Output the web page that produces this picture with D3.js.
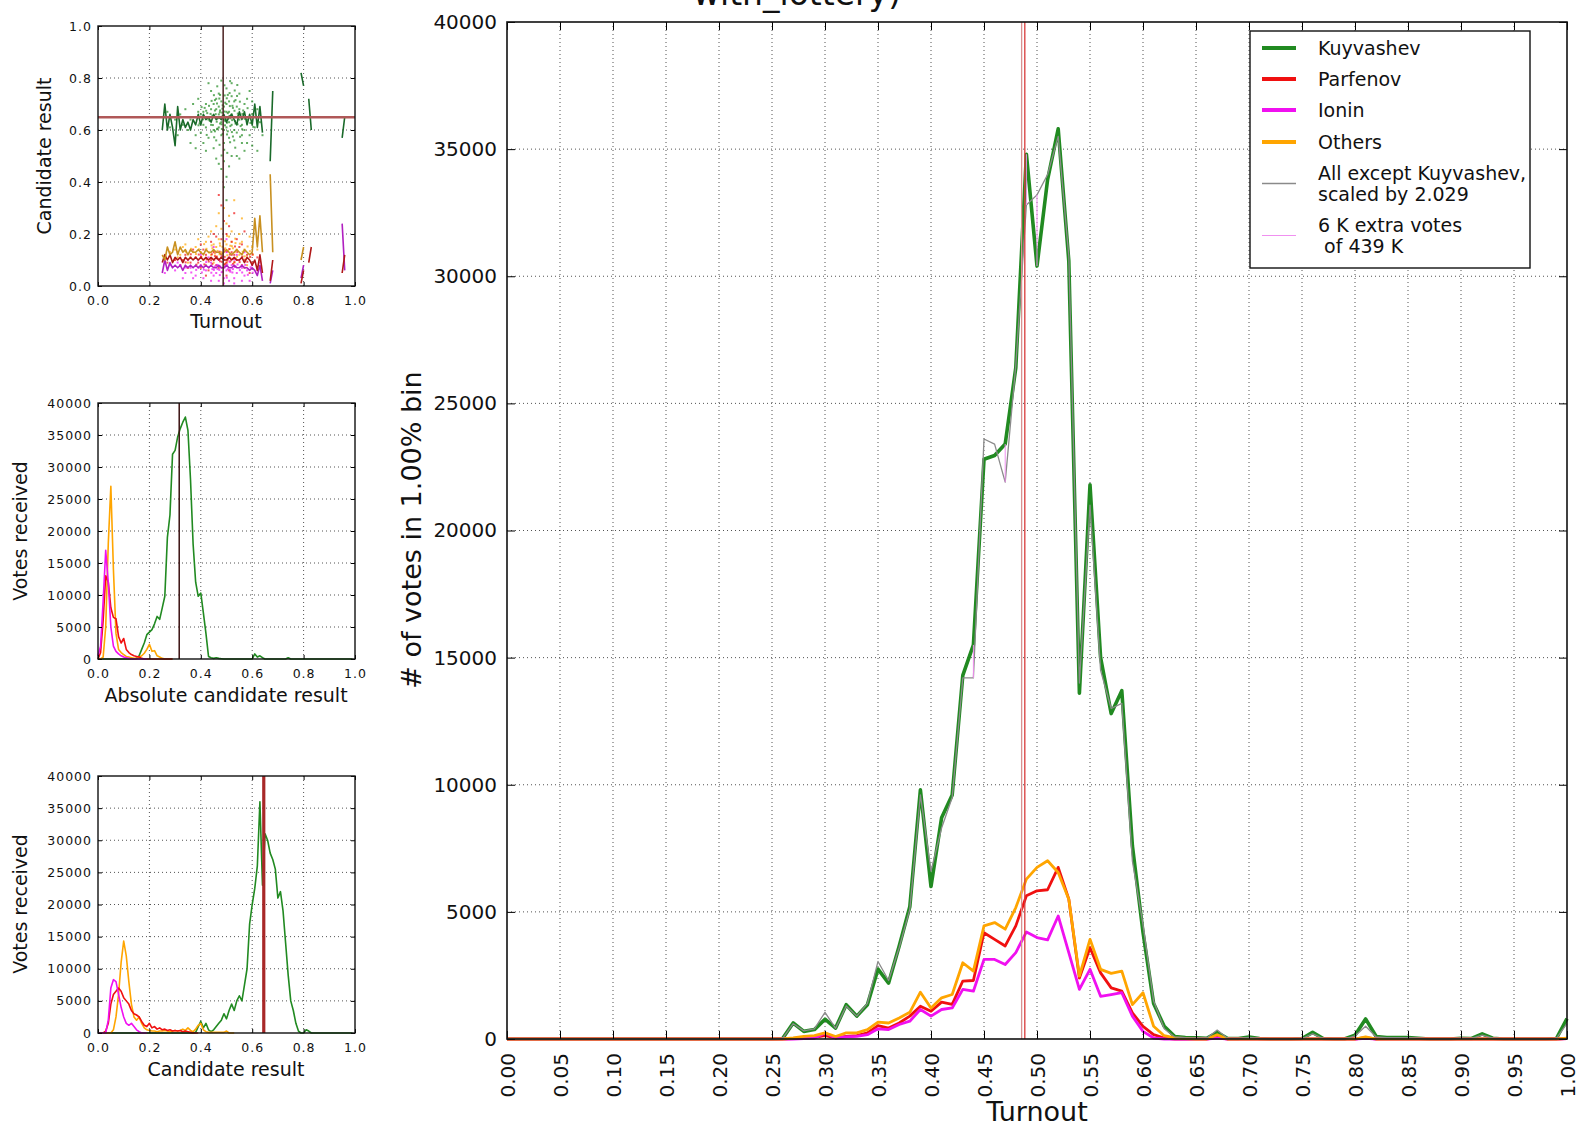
<!DOCTYPE html>
<html><head><meta charset="utf-8">
<script src="https://cdn.jsdelivr.net/npm/d3@7"></script>
<style>body{margin:0;background:#fff} text{font-family:"DejaVu Sans",Verdana,sans-serif;fill:#111}</style>
</head><body><svg id="c" width="1581" height="1128"></svg>
<script>
// ---------------- DATA ----------------
const turnoutBins = d3.range(0, 101).map(i => i / 100);
const kuyvashev = [
 0,0,0,0,0,0,0,0,0,0,
 0,0,0,0,0,0,0,0,0,0,
 0,0,0,0,0,0,20,630,300,370,
 780,430,1350,900,1350,2750,2200,3660,5200,9800,
 6000,8700,9600,14300,15500,22800,22950,23400,26400,34800,
 30400,33800,35800,30600,13600,21800,15000,12800,13700,7600,
 4200,1400,500,100,60,50,30,250,20,20,
 80,20,0,0,0,20,260,20,0,0,
 150,790,100,60,60,60,30,0,0,0,
 30,20,200,30,0,0,0,0,0,20,
 800];
const parfenov = [
 0,0,0,0,0,0,0,0,0,0,
 0,0,0,0,0,0,0,0,0,0,
 0,0,0,0,0,0,0,20,40,60,
 130,40,100,130,240,530,430,630,900,1290,
 1090,1450,1360,2280,2300,4180,3920,3660,4450,5630,
 5830,5870,6750,5500,2400,3590,2600,2010,1880,1030,
 500,170,40,0,0,0,0,60,0,0,
 0,0,0,0,0,0,0,0,0,0,
 0,50,0,0,0,0,0,0,0,0,
 0,0,0,0,0,0,0,0,0,0,
 20];
const ionin = [
 0,0,0,0,0,0,0,0,0,0,
 0,0,0,0,0,0,0,0,0,0,
 0,0,0,0,0,0,0,0,20,30,
 240,40,80,100,170,400,370,570,700,1160,
 900,1160,1220,1950,1880,3130,3130,2930,3400,4210,
 3990,3900,4840,3400,1950,2740,1680,1750,1820,900,
 300,40,0,0,0,0,0,40,0,0,
 0,0,0,0,0,0,0,0,0,0,
 0,30,0,0,0,0,0,0,0,0,
 0,0,0,0,0,0,0,0,0,0,
 20];
const others = [
 0,0,0,0,0,0,0,0,0,0,
 0,0,0,0,0,0,0,0,0,0,
 0,0,0,0,0,0,0,40,100,130,
 240,100,240,240,370,660,630,830,1050,1840,
 1220,1620,1750,3000,2670,4450,4580,4320,5170,6290,
 6750,7010,6550,5500,2470,3920,2740,2580,2670,1350,
 1820,500,130,40,20,0,0,170,0,0,
 0,0,0,0,0,0,0,0,0,0,
 0,80,0,0,0,0,0,0,0,0,
 0,0,0,0,0,0,0,0,0,0,
 30];
// "All except Kuyvashev, scaled by 2.029"
const allExceptScaled = [
 0,0,0,0,0,0,0,0,0,0,
 0,0,0,0,0,0,0,0,0,0,
 0,0,0,0,0,0,20,600,320,400,
 1050,420,1300,900,1400,3050,2300,3600,5100,9600,
 6600,8300,9500,14200,14200,23600,23400,21900,26500,32800,
 33200,34000,35500,30800,14000,21000,14500,13000,13200,7000,
 4500,1500,400,80,50,40,30,350,20,20,
 60,20,0,0,0,20,200,20,0,0,
 120,500,80,50,50,50,30,0,0,0,
 30,20,150,30,0,0,0,0,0,20,
 600];
const meanTurnoutLines = [0.4855, 0.4885];
const xTickValues = d3.range(0, 21).map(i => i * 0.05);
const yTickValues = d3.range(0, 9).map(i => i * 5000);

// panel 1: candidate result vs turnout
const shareBins = d3.range(25, 97).map(i => i / 100);
const kuyShare = [
 0.60,0.70,0.60,0.66,0.61,0.54,0.69,0.60,0.64,0.61,
 0.63,0.60,0.64,0.62,0.66,0.62,0.66,0.64,0.65,0.63,
 0.66,0.64,0.65,0.64,0.66,0.63,0.65,0.66,0.64,0.62,
 0.67,0.64,0.67,0.62,0.66,0.62,0.70,0.61,0.69,0.59,
 null,null,0.48,0.75,null,null,null,null,null,null,
 null,null,null,null,0.82,0.77,null,0.72,0.60,null,
 null,null,null,null,null,null,null,null,null,null,
 0.57,0.65];
const othersShare = [
 0.12,0.10,0.15,0.12,0.13,0.17,0.12,0.15,0.13,0.14,
 0.12,0.14,0.13,0.13,0.14,0.13,0.12,0.14,0.13,0.13,
 0.14,0.13,0.13,0.12,0.13,0.14,0.13,0.12,0.13,0.14,
 0.13,0.12,0.14,0.13,0.12,0.13,0.26,0.15,0.27,0.13,
 null,null,0.43,0.13,null,null,null,null,null,null,
 null,null,null,null,0.10,0.15,null,null,null,null,
 null,null,null,null,null,null,null,null,null,null,
 null,null];
const parfShare = [
 0.09,0.12,0.10,0.12,0.09,0.11,0.10,0.11,0.09,0.11,
 0.10,0.11,0.10,0.11,0.10,0.11,0.10,0.11,0.10,0.11,
 0.10,0.11,0.10,0.11,0.10,0.10,0.11,0.10,0.11,0.10,
 0.10,0.11,0.09,0.11,0.10,0.08,0.10,0.06,0.12,0.05,
 null,null,0.02,0.10,null,null,null,null,null,null,
 null,null,null,null,0.01,0.06,null,0.09,0.15,null,
 null,null,null,null,null,null,null,null,null,null,
 0.05,0.12];
const ioninShare = [
 0.05,0.10,0.06,0.09,0.07,0.08,0.07,0.08,0.06,0.08,
 0.07,0.08,0.07,0.08,0.07,0.08,0.07,0.08,0.07,0.08,
 0.07,0.07,0.08,0.07,0.07,0.08,0.07,0.07,0.08,0.07,
 0.07,0.08,0.07,0.07,0.06,0.07,0.06,0.04,0.08,0.02,
 null,null,0.01,0.06,null,null,null,null,null,null,
 null,null,null,null,0.03,0.08,null,null,null,null,
 null,null,null,null,null,null,null,null,null,null,
 0.24,0.06];
const kuyPrecincts = [
 [0.40,0.66],[0.41,0.62],[0.42,0.70],[0.43,0.64],[0.44,0.68],[0.45,0.60],[0.46,0.72],[0.47,0.66],[0.48,0.63],[0.49,0.69],
 [0.50,0.61],[0.51,0.67],[0.52,0.73],[0.53,0.65],[0.54,0.59],[0.55,0.68],[0.56,0.62],[0.57,0.70],[0.58,0.64],[0.59,0.58],
 [0.36,0.64],[0.37,0.70],[0.38,0.58],[0.39,0.67],[0.44,0.75],[0.46,0.56],[0.47,0.74],[0.49,0.55],[0.50,0.76],[0.51,0.57],
 [0.52,0.62],[0.53,0.71],[0.55,0.74],[0.56,0.55],[0.57,0.60],[0.58,0.72],[0.60,0.66],[0.61,0.61],[0.62,0.68],[0.43,0.57],
 [0.42,0.61],[0.45,0.65],[0.46,0.68],[0.48,0.71],[0.49,0.64],[0.50,0.67],[0.51,0.63],[0.52,0.66],[0.53,0.60],[0.54,0.69],
 [0.55,0.64],[0.47,0.61],[0.48,0.58],[0.50,0.70],[0.45,0.70],[0.44,0.62],[0.41,0.67],[0.40,0.59],[0.39,0.72],[0.38,0.65],
 [0.35,0.60],[0.34,0.68],[0.33,0.62],[0.32,0.66],[0.31,0.58],[0.30,0.64],[0.28,0.61],[0.27,0.67],[0.63,0.63],[0.64,0.58],
 [0.62,0.52],[0.60,0.71],[0.59,0.75],[0.57,0.52],[0.54,0.50],[0.52,0.78],[0.48,0.79],[0.45,0.53],[0.43,0.78],[0.41,0.55],
 [0.49,0.48],[0.48,0.45],[0.50,0.42],[0.49,0.38],[0.47,0.47],[0.51,0.46],[0.50,0.33],[0.46,0.49],[0.52,0.50],[0.55,0.49],
 [0.58,0.55],[0.60,0.54],[0.42,0.52],[0.38,0.53],[0.36,0.55],[0.53,0.56],[0.56,0.58],[0.47,0.69],[0.51,0.71],[0.49,0.60],
 [0.465,0.645],[0.475,0.625],[0.485,0.655],[0.495,0.635],[0.505,0.665],[0.515,0.645],[0.455,0.675],[0.445,0.655],[0.525,0.685],[0.535,0.625],
 [0.485,0.695],[0.475,0.675],[0.495,0.705],[0.465,0.605],[0.505,0.595],[0.515,0.615],[0.435,0.635],[0.545,0.655],[0.425,0.665],[0.555,0.615],
 [0.475,0.735],[0.505,0.735],[0.455,0.715],[0.535,0.715],[0.485,0.585],[0.455,0.595],[0.525,0.575],[0.565,0.675],[0.415,0.685],[0.395,0.625],
 [0.462,0.632],[0.471,0.648],[0.483,0.667],[0.492,0.671],[0.503,0.642],[0.511,0.653],[0.522,0.638],[0.531,0.674],[0.474,0.668],[0.481,0.622],
 [0.494,0.618],[0.502,0.628],[0.513,0.692],[0.458,0.661],[0.447,0.619],[0.438,0.662],[0.533,0.634],[0.544,0.663],[0.523,0.693],[0.501,0.722],
 [0.484,0.682],[0.463,0.702],[0.442,0.712],[0.421,0.674],[0.432,0.693],[0.409,0.641],[0.403,0.688],[0.391,0.618],[0.562,0.662],[0.571,0.643],
 [0.582,0.684],[0.593,0.627],[0.604,0.612],[0.552,0.709],[0.541,0.731],[0.532,0.752],[0.512,0.742],[0.493,0.733],[0.472,0.721],[0.451,0.734],
 [0.463,0.603],[0.482,0.604],[0.502,0.583],[0.521,0.592],[0.543,0.622],[0.441,0.593],[0.423,0.581],[0.561,0.603],[0.514,0.553],[0.491,0.524],
 [0.473,0.543],[0.534,0.532],[0.452,0.572],[0.553,0.574],[0.492,0.772],[0.514,0.788],[0.464,0.768],[0.542,0.773],[0.503,0.512],[0.481,0.502]];
const othersPrecincts = [
 [0.30,0.14],[0.32,0.12],[0.34,0.16],[0.36,0.11],[0.38,0.15],[0.40,0.13],[0.42,0.17],[0.44,0.12],[0.46,0.15],[0.48,0.13],
 [0.50,0.16],[0.52,0.12],[0.54,0.14],[0.56,0.17],[0.58,0.11],[0.60,0.15],[0.41,0.10],[0.43,0.19],[0.45,0.09],[0.47,0.18],
 [0.49,0.10],[0.51,0.19],[0.53,0.09],[0.55,0.12],[0.57,0.14],[0.39,0.18],[0.37,0.13],[0.35,0.09],[0.33,0.15],[0.31,0.11],
 [0.465,0.135],[0.475,0.155],[0.485,0.125],[0.495,0.145],[0.505,0.135],[0.515,0.155],[0.445,0.145],[0.455,0.125],[0.525,0.145],[0.535,0.165],
 [0.48,0.22],[0.50,0.24],[0.52,0.21],[0.46,0.23],[0.55,0.20],[0.59,0.19],[0.62,0.14],[0.28,0.13],[0.26,0.12],[0.44,0.21],
 [0.49,0.30],[0.51,0.27],[0.53,0.33],[0.47,0.28],[0.56,0.26],[0.42,0.08],[0.58,0.08],[0.50,0.09],[0.45,0.16],[0.52,0.17],
 [0.473,0.122],[0.484,0.151],[0.492,0.133],[0.503,0.118],[0.512,0.142],[0.521,0.153],[0.532,0.131],[0.461,0.112],[0.451,0.134],[0.442,0.156],
 [0.433,0.128],[0.541,0.113],[0.552,0.163],[0.563,0.132],[0.571,0.114],[0.422,0.143],[0.413,0.161],[0.402,0.112],[0.393,0.141],[0.381,0.123],
 [0.582,0.152],[0.591,0.134],[0.603,0.121],[0.362,0.143],[0.342,0.132],[0.494,0.172],[0.514,0.108],[0.474,0.164],[0.534,0.182],[0.502,0.193]];
const parfPrecincts = [
 [0.30,0.10],[0.32,0.08],[0.34,0.12],[0.36,0.09],[0.38,0.11],[0.40,0.07],[0.42,0.12],[0.44,0.10],[0.46,0.08],[0.48,0.11],
 [0.50,0.09],[0.52,0.13],[0.54,0.10],[0.56,0.08],[0.58,0.12],[0.60,0.09],[0.41,0.14],[0.43,0.06],[0.45,0.13],[0.47,0.07],
 [0.49,0.14],[0.51,0.06],[0.53,0.12],[0.55,0.15],[0.57,0.07],[0.39,0.09],[0.37,0.14],[0.35,0.07],[0.33,0.10],[0.31,0.13],
 [0.465,0.105],[0.475,0.095],[0.485,0.115],[0.495,0.085],[0.505,0.105],[0.515,0.095],[0.445,0.085],[0.455,0.115],[0.525,0.085],[0.535,0.105],
 [0.48,0.18],[0.50,0.20],[0.52,0.17],[0.46,0.19],[0.54,0.18],[0.44,0.17],[0.49,0.25],[0.51,0.23],[0.47,0.35],[0.53,0.28],
 [0.27,0.09],[0.62,0.11],[0.59,0.05],[0.42,0.04],[0.50,0.04],[0.56,0.16],[0.40,0.16],[0.45,0.20],[0.57,0.21],[0.48,0.31],
 [0.471,0.102],[0.482,0.093],[0.493,0.112],[0.504,0.098],[0.513,0.121],[0.524,0.104],[0.531,0.092],[0.462,0.113],[0.452,0.101],[0.443,0.122],
 [0.431,0.094],[0.542,0.131],[0.551,0.092],[0.562,0.113],[0.572,0.101],[0.423,0.102],[0.414,0.083],[0.401,0.112],[0.392,0.121],[0.383,0.082],
 [0.581,0.093],[0.592,0.112],[0.601,0.121],[0.361,0.122],[0.341,0.091],[0.491,0.082],[0.511,0.142],[0.473,0.132],[0.533,0.152],[0.502,0.133]];
const ioninPrecincts = [
 [0.30,0.06],[0.32,0.08],[0.34,0.05],[0.36,0.07],[0.38,0.04],[0.40,0.08],[0.42,0.06],[0.44,0.09],[0.46,0.05],[0.48,0.07],
 [0.50,0.06],[0.52,0.08],[0.54,0.05],[0.56,0.07],[0.58,0.06],[0.60,0.08],[0.41,0.03],[0.43,0.11],[0.45,0.04],[0.47,0.10],
 [0.49,0.03],[0.51,0.11],[0.53,0.03],[0.55,0.10],[0.57,0.04],[0.39,0.10],[0.37,0.03],[0.35,0.10],[0.33,0.03],[0.31,0.09],
 [0.465,0.065],[0.475,0.075],[0.485,0.055],[0.495,0.075],[0.505,0.065],[0.515,0.055],[0.445,0.065],[0.455,0.075],[0.525,0.065],[0.535,0.075],
 [0.48,0.12],[0.50,0.13],[0.52,0.12],[0.46,0.13],[0.54,0.12],[0.44,0.02],[0.49,0.01],[0.51,0.02],[0.47,0.02],[0.53,0.01],
 [0.26,0.05],[0.62,0.06],[0.59,0.02],[0.28,0.08],[0.63,0.09],[0.56,0.02],[0.40,0.12],[0.45,0.15],[0.57,0.13],[0.50,0.18],
 [0.472,0.062],[0.481,0.053],[0.492,0.071],[0.503,0.082],[0.514,0.061],[0.523,0.052],[0.532,0.073],[0.463,0.081],[0.451,0.062],[0.441,0.051],
 [0.432,0.072],[0.543,0.083],[0.552,0.061],[0.561,0.052],[0.573,0.081],[0.421,0.092],[0.412,0.063],[0.404,0.052],[0.391,0.071],[0.382,0.062],
 [0.583,0.043],[0.594,0.072],[0.602,0.051],[0.363,0.052],[0.343,0.071],[0.491,0.102],[0.512,0.093],[0.474,0.042],[0.531,0.101],[0.501,0.032]];
const meanTurnout = 0.487, meanKuyShare = 0.649;

// panel 2: votes vs absolute candidate result
const resultBins = d3.range(0, 100).map(i => i / 100);
const absKuy = [
 0,0,0,0,0,0,0,0,0,0,
 0,0,0,0,0,100,500,1500,2500,3800,
 4200,4600,5500,6650,6200,8000,9800,19000,22500,32000,
 32600,34700,36000,37000,37800,35700,28000,18000,12000,9800,
 10300,7200,4000,400,200,100,200,100,50,0,
 0,0,0,0,0,0,0,0,0,0,
 0,800,300,500,200,0,0,0,0,0,
 0,0,0,0,200,0,0,0,0,0,
 0,0,0,0,0,0,0,0,0,0,
 0,0,0,0,0,0,0,0,0,0];
const absParf = [
 0,1000,6000,13000,12000,8000,6500,6300,3500,2500,
 3200,1500,1000,700,500,400,300,100,0,0,
 0,0,0,0,0,0,0,0,0,0];
const absIonin = [
 500,2000,9000,17000,12000,5000,2000,1200,800,500,
 300,200,100,0,0,0,0,0,0,0];
const absOthers = [
 0,0,300,5000,18000,27000,14000,4000,1500,1000,
 700,400,300,200,100,100,300,500,900,1500,
 2300,1200,1300,500,300,100,0,0,0,0];
const absKuyMedian = 0.316;

// panel 3: votes vs candidate result
const relKuy = [
 0,0,0,0,0,0,0,0,0,0,
 0,0,0,0,0,0,0,0,0,0,
 0,0,0,0,0,0,0,0,0,0,
 0,0,0,0,0,0,0,0,100,1000,
 1800,800,1500,500,200,500,1000,1500,2000,3000,
 2200,3500,4500,3500,5000,5800,5000,7500,10000,17000,
 20000,22500,26000,36000,23000,31000,30000,28000,27000,25500,
 21000,22000,19000,14000,9000,5000,3500,1500,300,0,
 0,500,300,0,0,0,0,0,0,0,
 0,0,0,0,0,0,0,0,0,0];
const relParf = [
 0,0,0,300,1500,4500,6000,6500,7000,6500,
 5500,5000,4500,3500,3000,2800,2500,1800,1200,1000,
 1500,800,1000,600,800,500,600,400,500,300,
 400,300,400,200,300,200,100,0,0,0];
const relIonin = [
 0,0,0,0,2000,7000,8300,8000,6000,4000,
 2500,1500,1200,1500,1000,500,200,0,0,0];
const relOthers = [
 0,0,0,0,0,0,500,2500,6000,11000,
 14300,12000,8000,4500,2500,2000,2500,1500,800,500,
 400,300,300,200,300,300,400,300,200,300,
 400,300,400,600,400,800,400,200,600,1200,
 1500,500,200,100,100,100,100,100,100,100,
 300,0,0,0];
const relKuyMedian = 0.645;

const C = {kuy:"#218a21", parf:"#f01010", ionin:"#f010f0", others:"#ffa500", grey:"#8a8a8a", pink:"#f090f0"};
const FONT = '"DejaVu Sans", Verdana, sans-serif';

// ---------------- DRAWING ----------------
const svg = d3.select("#c");
svg.append("rect").attr("width",1581).attr("height",1128).attr("fill","#fff");

function drawAxes(o) {
  const [xa, xb] = o.x.range(), [yb, ya] = o.y.range();
  const g = svg.append("g");
  const xd = o.x.domain(), yd = o.y.domain();
  g.selectAll(null).data(o.xTicks.filter(v => v > xd[0] + 1e-9 && v < xd[1] - 1e-9)).join("line")
    .attr("x1", d => o.x(d)).attr("x2", d => o.x(d)).attr("y1", yb).attr("y2", ya)
    .attr("stroke", "#000").attr("stroke-width", 0.9).attr("stroke-dasharray", "1,3").attr("opacity", 0.75);
  g.selectAll(null).data(o.yTicks.filter(v => v > yd[0] + 1e-9 && v < yd[1] - 1e-9)).join("line")
    .attr("y1", d => o.y(d)).attr("y2", d => o.y(d)).attr("x1", xa).attr("x2", xb)
    .attr("stroke", "#000").attr("stroke-width", 0.9).attr("stroke-dasharray", "1,3").attr("opacity", 0.75);
  return g;
}
function drawFrame(o) {
  const [xa, xb] = o.x.range(), [yb, ya] = o.y.range();
  const g = svg.append("g");
  const ax = (gen, tr) => {
    const a = g.append("g").attr("transform", tr).call(gen);
    a.select(".domain").remove();
    a.selectAll("line").attr("stroke", "#000").attr("stroke-width", 1);
    a.selectAll("text").style("font-family", FONT).style("font-size", o.font + "px")
      .style("letter-spacing", (o.ls || 0) + "px").attr("fill", "#111");
    return a;
  };
  const bx = ax(d3.axisBottom(o.x).tickValues(o.xTicks).tickFormat(o.xFmt).tickSize(-o.tick).tickSizeOuter(0).tickPadding(o.xpad), `translate(0,${yb})`);
  ax(d3.axisTop(o.x).tickValues(o.xTicks).tickFormat("").tickSize(-o.tick).tickSizeOuter(0), `translate(0,${ya})`);
  ax(d3.axisLeft(o.y).tickValues(o.yTicks).tickFormat(o.yFmt).tickSize(-o.tick).tickSizeOuter(0).tickPadding(o.ypad), `translate(${xa},0)`);
  ax(d3.axisRight(o.y).tickValues(o.yTicks).tickFormat("").tickSize(-o.tick).tickSizeOuter(0), `translate(${xb},0)`);
  g.append("rect").attr("x", xa).attr("y", ya).attr("width", xb - xa).attr("height", yb - ya)
    .attr("fill", "none").attr("stroke", "#111").attr("stroke-width", o.fw || 1.5);
  return bx;
}
function seriesLine(x, y, bins, vals, color, w, parent) {
  const line = d3.line().defined(d => d[1] != null).x(d => x(d[0])).y(d => y(d[1]));
  (parent || svg).append("path").datum(bins.slice(0, vals.length).map((b, i) => [b, vals[i]]))
    .attr("d", line).attr("fill", "none").attr("stroke", color).attr("stroke-width", w)
    .attr("stroke-linejoin", "round").attr("stroke-linecap", "butt");
}
function label(txt, x, y, size, rot, anchor) {
  svg.append("text").attr("transform", `translate(${x},${y})` + (rot ? ` rotate(${rot})` : ""))
    .attr("text-anchor", anchor || "middle").style("font-size", size + "px").style("font-family", FONT).attr("fill", "#111").text(txt);
}

// ---- Title (cut off at the top of the figure) ----
label("with_lottery)", 797, 5, 33);

// ---- Main chart ----
const X = d3.scaleLinear([0, 1], [507, 1567]);
const Y = d3.scaleLinear([0, 40000], [1039, 22]);
const mainOpts = {x: X, y: Y, xTicks: xTickValues, yTicks: yTickValues, tick: 8, font: 20, xpad: 14, ypad: 10,
  xFmt: d3.format(".2f"), yFmt: d3.format("d"), fw: 1.6};
drawAxes(mainOpts);
const gm = svg.append("g");
seriesLine(X, Y, turnoutBins, kuyvashev, C.kuy, 3.6, gm);
seriesLine(X, Y, turnoutBins, parfenov, C.parf, 2.8, gm);
seriesLine(X, Y, turnoutBins, ionin, C.ionin, 2.8, gm);
seriesLine(X, Y, turnoutBins, others, C.others, 2.8, gm);
seriesLine(X, Y, turnoutBins, allExceptScaled, C.grey, 1.3, gm);
gm.selectAll(null).data(turnoutBins.filter((t, i) => Math.abs(kuyvashev[i] - allExceptScaled[i]) > 1000)).join("line")
  .attr("x1", d => X(d)).attr("x2", d => X(d))
  .attr("y1", d => Y(kuyvashev[Math.round(d * 100)])).attr("y2", d => Y(allExceptScaled[Math.round(d * 100)]))
  .attr("stroke", C.pink).attr("stroke-width", 1);
gm.selectAll(null).data(meanTurnoutLines).join("line")
  .attr("x1", d => X(d)).attr("x2", d => X(d)).attr("y1", Y(0)).attr("y2", Y(40000))
  .attr("stroke", (d, i) => i ? "#d83a3a" : "#d89090").attr("stroke-width", 1.3);
const bxm = drawFrame(mainOpts);
bxm.selectAll("text").attr("transform", "rotate(-90)").attr("x", -14).attr("y", 0).attr("dy", "0.35em").attr("text-anchor", "end");
label("# of votes in 1.00% bin", 421, 530, 27, -90);
label("Turnout", 1037, 1121, 27);

// Legend
const lg = svg.append("g");
lg.append("rect").attr("x", 1250).attr("y", 31).attr("width", 280).attr("height", 237).attr("fill", "#fff").attr("stroke", "#111").attr("stroke-width", 1.4);
const legendItems = [
  {lines: ["Kuyvashev"], color: C.kuy, w: 4, y: 48},
  {lines: ["Parfenov"], color: C.parf, w: 4, y: 79},
  {lines: ["Ionin"], color: C.ionin, w: 4, y: 110},
  {lines: ["Others"], color: C.others, w: 4, y: 142},
  {lines: ["All except Kuyvashev,", "scaled by 2.029"], color: C.grey, w: 1.5, y: 173},
  {lines: ["6 K extra votes", " of 439 K"], color: C.pink, w: 1.2, y: 225}
];
legendItems.forEach(it => {
  const ly = it.y + (it.lines.length - 1) * 10.5;
  lg.append("line").attr("x1", 1262).attr("x2", 1296).attr("y1", ly).attr("y2", ly).attr("stroke", it.color).attr("stroke-width", it.w);
  it.lines.forEach((t, k) => lg.append("text").attr("x", 1318).attr("y", it.y + k * 21).attr("dy", "0.35em")
    .style("font-size", "19px").style("font-family", FONT).style("white-space", "pre").attr("xml:space", "preserve").attr("fill", "#111").text(t));
});

// ---- Panel 1: scatter ----
const px = d3.scaleLinear([0, 1], [98, 355]);
const p1y = d3.scaleLinear([0, 1], [286, 26]);
const tick01 = d3.range(0, 6).map(i => i * 0.2);
const smallOpts = {tick: 4, font: 12.5, ls: 1, xpad: 10, ypad: 6, xFmt: d3.format(".1f"), fw: 1.4};
const p1 = Object.assign({x: px, y: p1y, xTicks: tick01, yTicks: tick01, yFmt: d3.format(".1f")}, smallOpts);
drawAxes(p1);
const dots = (pts, color) => svg.append("g").selectAll(null).data(pts).join("rect")
  .attr("x", d => px(d[0]) - 1).attr("y", d => p1y(d[1]) - 1).attr("width", 2).attr("height", 2)
  .attr("fill", color).attr("opacity", 0.7);
dots(kuyPrecincts, C.kuy);
dots(othersPrecincts, C.others);
dots(parfPrecincts, C.parf);
dots(ioninPrecincts, C.ionin);
seriesLine(px, p1y, shareBins, ioninShare, "#b020c0", 1.6);
seriesLine(px, p1y, shareBins, parfShare, "#b01818", 1.6);
seriesLine(px, p1y, shareBins, othersShare, "#c89020", 1.6);
seriesLine(px, p1y, shareBins, kuyShare, "#1a6a2a", 1.6);
svg.append("line").attr("x1", px(meanTurnout)).attr("x2", px(meanTurnout)).attr("y1", p1y(0)).attr("y2", p1y(1)).attr("stroke", "#4a2020").attr("stroke-width", 1.5);
svg.append("line").attr("x1", px(0)).attr("x2", px(1)).attr("y1", p1y(meanKuyShare)).attr("y2", p1y(meanKuyShare)).attr("stroke", "#b05858").attr("stroke-width", 2.6);
drawFrame(p1);
label("Turnout", 226, 328, 19);
label("Candidate result", 51, 156, 19, -90);

// ---- Panel 2 ----
const p2y = d3.scaleLinear([0, 40000], [659, 403]);
const p2 = Object.assign({x: px, y: p2y, xTicks: tick01, yTicks: yTickValues, yFmt: d3.format("d")}, smallOpts);
drawAxes(p2);
seriesLine(px, p2y, resultBins, absKuy, C.kuy, 1.6);
seriesLine(px, p2y, resultBins, absOthers, C.others, 1.6);
seriesLine(px, p2y, resultBins, absParf, C.parf, 1.6);
seriesLine(px, p2y, resultBins, absIonin, C.ionin, 1.6);
svg.append("line").attr("x1", px(absKuyMedian)).attr("x2", px(absKuyMedian)).attr("y1", p2y(0)).attr("y2", p2y(40000)).attr("stroke", "#3a1010").attr("stroke-width", 1.5);
drawFrame(p2);
label("Absolute candidate result", 226, 702, 19);
label("Votes received", 27, 531, 19, -90);

// ---- Panel 3 ----
const p3y = d3.scaleLinear([0, 40000], [1033, 776]);
const p3 = Object.assign({x: px, y: p3y, xTicks: tick01, yTicks: yTickValues, yFmt: d3.format("d")}, smallOpts);
drawAxes(p3);
seriesLine(px, p3y, resultBins, relKuy, C.kuy, 1.6);
seriesLine(px, p3y, resultBins, relOthers, C.others, 1.6);
seriesLine(px, p3y, resultBins, relParf, C.parf, 1.6);
seriesLine(px, p3y, resultBins, relIonin, C.ionin, 1.6);
svg.append("line").attr("x1", px(relKuyMedian)).attr("x2", px(relKuyMedian)).attr("y1", p3y(0)).attr("y2", p3y(40000)).attr("stroke", "#a82828").attr("stroke-width", 3.2);
drawFrame(p3);
label("Candidate result", 226, 1076, 19);
label("Votes received", 27, 904, 19, -90);
</script></body></html>
